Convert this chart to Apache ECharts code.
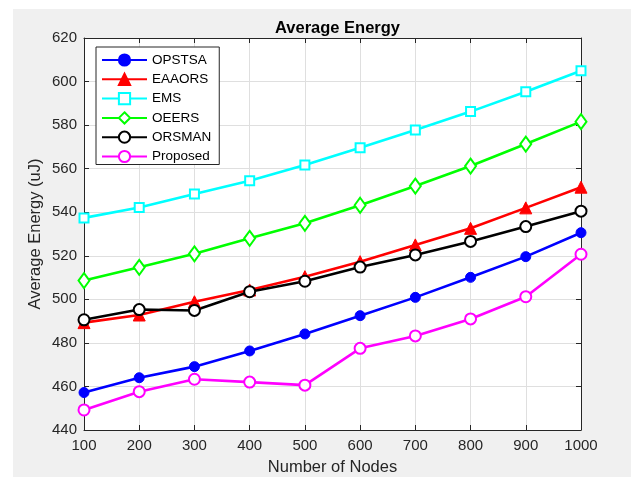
<!DOCTYPE html>
<html>
<head>
<meta charset="utf-8">
<script src="https://cdn.jsdelivr.net/npm/echarts@6/dist/echarts.min.js"></script>
<style>
html,body{margin:0;padding:0;background:#ffffff;}
#bg{position:absolute;left:13px;top:9px;width:618px;height:468px;background:#f0f0f0;}
#chart{position:absolute;left:0;top:0;width:631px;height:486px;}
</style>
</head>
<body>
<div id="bg"></div>
<div id="chart"></div>
<script>
const nodes = [100, 200, 300, 400, 500, 600, 700, 800, 900, 1000];
const opstsa = [457.2, 464.0, 469.1, 476.3, 484.1, 492.5, 500.9, 510.1, 519.6, 530.6];
const eaaors = [489.3, 492.8, 498.9, 504.3, 510.4, 517.3, 525.0, 532.6, 542.0, 551.5];
const ems = [537.4, 542.2, 548.4, 554.5, 561.7, 569.6, 577.8, 586.2, 595.3, 605.0];
const oeers = [508.6, 514.7, 520.9, 528.0, 534.9, 543.2, 552.0, 561.2, 571.3, 581.6];
const orsman = [490.6, 495.3, 494.9, 503.5, 508.3, 514.8, 520.4, 526.6, 533.4, 540.5];
const proposed = [449.2, 457.6, 463.3, 462.0, 460.6, 477.5, 483.2, 491.0, 501.2, 520.7];
const seriesNames = ['OPSTSA', 'EAAORS', 'EMS', 'OEERS', 'ORSMAN', 'Proposed'];

const FONT = '"Liberation Sans", Arial, Helvetica, sans-serif';
const AX = '#262626';

function pairs(ys) { return nodes.map((x, i) => [x, ys[i]]); }

function mk(name, ys, color, symbol, size, filled) {
  return {
    name: name,
    type: 'line',
    data: pairs(ys),
    symbol: symbol,
    symbolSize: size,
    showAllSymbol: true,
    lineStyle: { color: color, width: 2.6 },
    itemStyle: filled ? { color: color, borderColor: color, borderWidth: 1 } : { color: color, borderColor: color, borderWidth: 2 },
    emphasis: { disabled: true },
    animation: false,
    z: 3
  };
}

const chart = echarts.init(document.getElementById('chart'), null, { renderer: 'canvas' });
const gridL = 84, gridT = 38, gridW = 497, gridH = 392;

chart.setOption({
  animation: false,
  title: {
    text: 'Average Energy',
    left: gridL + gridW / 2,
    textAlign: 'center',
    top: 15,
    textStyle: { fontFamily: FONT, fontSize: 16.5, fontWeight: 'bold', color: '#000' }
  },
  grid: { left: gridL, top: gridT, width: gridW, height: gridH, show: true, backgroundColor: '#ffffff', borderWidth: 0 },
  legend: {
    data: seriesNames,
    orient: 'vertical',
    left: 96,
    top: 47,
    padding: [6, 8, 1, 5],
    itemWidth: 45,
    itemHeight: 14,
    itemGap: 5.3,
    backgroundColor: '#ffffff',
    borderColor: AX,
    borderWidth: 1,
    textStyle: { fontFamily: FONT, fontSize: 13.5, color: '#000', lineHeight: 14 }
  },
  xAxis: [{
    type: 'value', min: 100, max: 1000, interval: 100,
    name: 'Number of Nodes', nameLocation: 'middle', nameGap: 29, nameMoveOverlap: false,
    nameTextStyle: { fontFamily: FONT, fontSize: 16.5, color: AX },
    axisLine: { show: true, onZero: false, lineStyle: { color: AX, width: 1 } },
    axisTick: { show: true, inside: true, length: 5, lineStyle: { color: AX } },
    axisLabel: { fontFamily: FONT, fontSize: 15, color: AX, margin: 8, formatter: function (v) { return String(v); } },
    splitLine: { show: true, lineStyle: { color: '#dfdfdf', width: 1 } }
  }, {
    type: 'value', min: 100, max: 1000, interval: 100, position: 'top',
    axisLine: { show: true, onZero: false, lineStyle: { color: AX, width: 1 } },
    axisTick: { show: true, inside: true, length: 5, lineStyle: { color: AX } },
    axisLabel: { show: false },
    splitLine: { show: false }
  }],
  yAxis: [{
    type: 'value', min: 440, max: 620, interval: 20,
    name: 'Average Energy (uJ)', nameLocation: 'middle', nameGap: 40, nameMoveOverlap: false,
    nameTextStyle: { fontFamily: FONT, fontSize: 16.5, color: AX },
    axisLine: { show: true, onZero: false, lineStyle: { color: AX, width: 1 } },
    axisTick: { show: true, inside: true, length: 5, lineStyle: { color: AX } },
    axisLabel: { fontFamily: FONT, fontSize: 15, color: AX, margin: 7 },
    splitLine: { show: true, lineStyle: { color: '#dfdfdf', width: 1 } }
  }, {
    type: 'value', min: 440, max: 620, interval: 20, position: 'right',
    axisLine: { show: true, onZero: false, lineStyle: { color: AX, width: 1 } },
    axisTick: { show: true, inside: true, length: 5, lineStyle: { color: AX } },
    axisLabel: { show: false },
    splitLine: { show: false }
  }],
  series: [
    mk('OPSTSA', opstsa, '#0000ff', 'circle', 10, true),
    mk('EAAORS', eaaors, '#ff0000', 'triangle', 12, true),
    mk('EMS', ems, '#00ffff', 'emptyRect', 9, false),
    mk('OEERS', oeers, '#00ff00', 'emptyDiamond', [11, 15], false),
    mk('ORSMAN', orsman, '#000000', 'emptyCircle', 11, false),
    mk('Proposed', proposed, '#ff00ff', 'emptyCircle', 11, false)
  ]
});
</script>
</body>
</html>
